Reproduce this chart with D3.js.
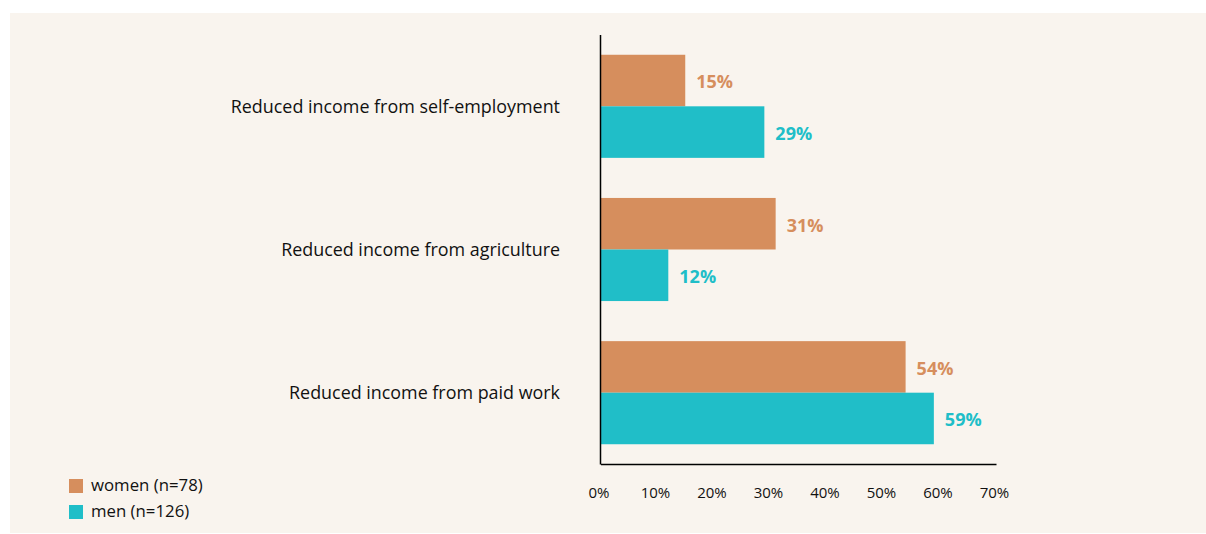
<!DOCTYPE html>
<html><head><meta charset="utf-8">
<script src="https://cdn.jsdelivr.net/npm/d3@7"></script>
<style>
html,body{margin:0;padding:0;background:#ffffff;}
svg{display:block;}
text{font-family:"Open Sans","Noto Sans",sans-serif;}
</style></head>
<body>
<script>
const categories = ["Reduced income from self-employment","Reduced income from agriculture","Reduced income from paid work"];
const seriesNames = ["women (n=78)","men (n=126)"];
const women = [15, 31, 54];
const men = [29, 12, 59];
const ticks = [0,10,20,30,40,50,60,70];
const colors = ["#D68E5D","#20BEC8"];

const W=1206,H=534;
const svg=d3.select("body").append("svg").attr("width",W).attr("height",H);
svg.append("rect").attr("x",10).attr("y",13).attr("width",W-10).attr("height",520).attr("fill","#F9F4EE");

const x=d3.scaleLinear().domain([0,70]).range([600.5,996]);
const y=d3.scaleBand().domain(categories).range([35,464]).paddingInner(0.28).paddingOuter(0.138);
const sub=d3.scaleBand().domain([0,1]).range([0,y.bandwidth()]);

const data=categories.map((c,i)=>({c,vals:[women[i],men[i]]}));
const g=svg.append("g");
data.forEach(d=>{
  d.vals.forEach((v,k)=>{
    g.append("rect").attr("x",x(0)).attr("y",y(d.c)+sub(k)).attr("width",x(v)-x(0)).attr("height",sub.bandwidth()).attr("fill",colors[k]);
    g.append("text").attr("x",x(v)+11).attr("y",y(d.c)+sub(k)+sub.bandwidth()/2+1.5).attr("dy","0.35em")
      .attr("fill",colors[k]).attr("font-weight","bold").attr("font-size",18).text(v+"%");
  });
  g.append("text").attr("x",560).attr("y",y(d.c)+y.bandwidth()/2).attr("dy","0.35em").attr("text-anchor","end")
    .attr("font-size",17.9).attr("fill","#111").text(d.c);
});

// axes
svg.append("line").attr("x1",x(0)).attr("x2",x(0)).attr("y1",35).attr("y2",464.5).attr("stroke","#000").attr("stroke-width",1.5);
const xa=svg.append("g").attr("transform","translate(0,464)").call(d3.axisBottom(x).tickValues(ticks).tickSize(0).tickPadding(23).tickFormat(d=>d+"%"));
xa.select(".domain").attr("stroke","#000").attr("stroke-width",1.5);
xa.selectAll("text").attr("font-size",15).attr("fill","#111").attr("dx",-2).style("font-family","'Open Sans','Noto Sans',sans-serif");

// legend
const lg=svg.append("g");
seriesNames.forEach((n,k)=>{
  lg.append("rect").attr("x",69).attr("y",479+k*26).attr("width",14).attr("height",14).attr("fill",colors[k]);
  lg.append("text").attr("x",91).attr("y",485+k*26).attr("dy","0.35em").attr("font-size",16.8).attr("fill","#111").text(n);
});
</script>
</body></html>
